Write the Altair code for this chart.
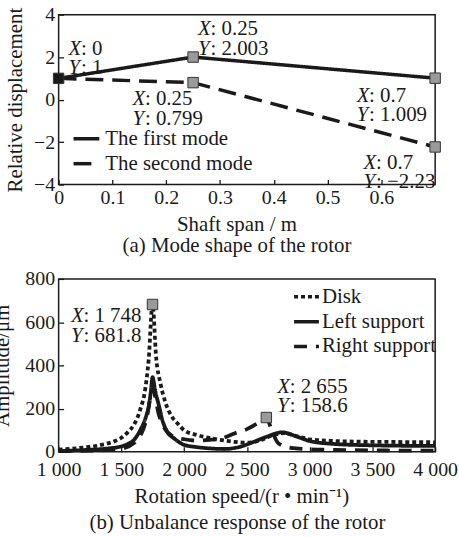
import altair as alt
import pandas as pd

FONT = "Liberation Serif"
INK = "#1a1a1a"
GRAY = "#9a9a9a"

# ---------------- (a) Mode shape of the rotor ----------------
span_m = [0.0, 0.25, 0.7]
first_mode = [1.0, 2.003, 1.009]
second_mode = [1.0, 0.799, -2.23]
mode_names = ["The first mode", "The second mode"]
span_ticks = [0, 0.1, 0.2, 0.3, 0.4, 0.5, 0.6]
disp_ticks = [-4, -2, 0, 2, 4]

tip_a_x = [0.0, 0.25, 0.25, 0.7, 0.7]
tip_a_y = [1.0, 2.003, 0.799, 1.009, -2.23]
tip_a_xlabel = ["0", "0.25", "0.25", "0.7", "0.7"]
tip_a_ylabel = ["1", "2.003", "0.799", "1.009", "\u22122.23"]
tip_a_fill = [INK, GRAY, GRAY, GRAY, GRAY]
tip_a_offsets = [(10, -24), (5, -22), (-61, 23), (-79, 24), (-72, 22)]

# ---------------- (b) Unbalance response of the rotor ----------------
disk_speed = [1000, 1200, 1350, 1450, 1500, 1550, 1600, 1650, 1690, 1718, 1748, 1778, 1810,
              1850, 1900, 1950, 2000, 2100, 2200, 2300, 2400, 2500, 2600, 2700, 2800, 2900,
              3000, 3200, 3500, 3800, 4000]
disk_amp = [10, 20, 33, 50, 65, 90, 125, 195, 290, 430, 681.8, 430, 320,
            230, 165, 130, 100, 78, 64, 54, 46, 42, 52, 75, 86, 72,
            58, 50, 46, 45, 44]
left_speed = [1000, 1200, 1400, 1500, 1550, 1600, 1650, 1700, 1720, 1735, 1748, 1770, 1800,
              1830, 1863, 1925, 2000, 2100, 2200, 2320, 2450, 2550, 2650, 2780, 2900, 3000,
              3200, 3500, 4000]
left_amp = [4, 8, 16, 25, 36, 55, 100, 170, 215, 280, 345, 280, 212,
            140, 95, 60, 32, 22, 16, 13, 24, 45, 68, 90, 70, 50,
            36, 30, 27]
right_speed = [1000, 1300, 1500, 1600, 1700, 1748, 1800, 1900, 2000, 2100, 2200, 2300, 2400,
               2500, 2580, 2655, 2700, 2750, 2850, 3000, 3300, 3600, 4000]
right_amp = [3, 6, 15, 40, 150, 290, 170, 75, 58, 52, 55, 62, 85,
             105, 130, 158.6, 95, 40, 18, 12, 8, 6, 5]
curve_names = ["Disk", "Left support", "Right support"]
speed_ticks = [1000, 1500, 2000, 2500, 3000, 3500, 4000]
amp_ticks = [0, 200, 400, 600, 800]

tip_b_x = [1748, 2655]
tip_b_y = [681.8, 158.6]
tip_b_xlabel = ["1 748", "2 655"]
tip_b_ylabel = ["681.8", "158.6"]
tip_b_fill = [GRAY, GRAY]
tip_b_offsets = [(-82, 18), (11, -25)]


def tip_layers(xv, yv, xlab, ylab, dx, dy, xenc, yenc):
    d = pd.DataFrame({"x": [xv], "y": [yv]})
    common = dict(align="left", baseline="alphabetic", font=FONT, fontSize=21,
                  lineHeight=19.5, lineBreak="\n", color=INK, dy=dy)
    letters = alt.Chart(d).mark_text(text="X\nY", fontStyle="italic", dx=dx, **common).encode(x=xenc, y=yenc)
    values = alt.Chart(d).mark_text(text=f": {xlab}\n: {ylab}", dx=dx + 12.5, **common).encode(x=xenc, y=yenc)
    return [letters, values]


axis_common = dict(grid=False, domain=False, offset=-5, tickSize=5, tickWidth=1.3, tickColor=INK,
                   labelFont=FONT, labelFontSize=20, labelColor=INK, titleFont=FONT,
                   titleFontSize=21, titleFontWeight="normal", titleColor=INK, labelFlush=False)

# ----- chart (a)
xa = alt.X("x:Q", scale=alt.Scale(domain=[0, 0.7], nice=False, zero=False),
           axis=alt.Axis(values=span_ticks, format="~g", title="Shaft span / m", labelPadding=3,
                         titlePadding=6.5, titleX=179, **axis_common))
ya = alt.Y("y:Q", scale=alt.Scale(domain=[-4, 4], nice=False),
           axis=alt.Axis(values=disp_ticks, format="d", title="Relative displacement", labelPadding=4,
                         titleX=-38, **axis_common))

modes_df = pd.DataFrame({
    "x": span_m + span_m,
    "y": first_mode + second_mode,
    "mode": [mode_names[0]] * len(span_m) + [mode_names[1]] * len(span_m),
})
leg_a = alt.Legend(orient="none", legendX=13, legendY=110, title=None, symbolType="stroke",
                   symbolSize=676, symbolStrokeWidth=3.5, labelFont=FONT, labelFontSize=21,
                   labelColor=INK, labelOffset=4, rowPadding=0, padding=0)
lines_a = alt.Chart(modes_df).mark_line(strokeWidth=3.5).encode(
    x=xa, y=ya,
    color=alt.Color("mode:N", scale=alt.Scale(domain=mode_names, range=[INK, INK]), legend=leg_a),
    strokeDash=alt.StrokeDash("mode:N", scale=alt.Scale(domain=mode_names, range=[[1, 0], [18, 9]]),
                              legend=leg_a),
    detail="mode:N",
)
marks_a_df = pd.DataFrame({"x": tip_a_x, "y": tip_a_y, "fill": tip_a_fill})
marks_a = alt.Chart(marks_a_df).mark_square(size=110, stroke="#333333", strokeWidth=1, opacity=1).encode(
    x=xa, y=ya, fill=alt.Fill("fill:N", scale=None))

layers_a = [lines_a, marks_a]
for i in range(len(tip_a_x)):
    layers_a += tip_layers(tip_a_x[i], tip_a_y[i], tip_a_xlabel[i], tip_a_ylabel[i],
                           tip_a_offsets[i][0], tip_a_offsets[i][1], xa, ya)

chart_a = alt.layer(*layers_a).properties(
    width=379, height=171,
    title=alt.TitleParams("(a) Mode shape of the rotor", orient="bottom", anchor="middle", font=FONT,
                          fontSize=21, fontWeight="normal", color=INK, offset=0, dx=-10),
)

# ----- chart (b)
xb = alt.X("x:Q", scale=alt.Scale(domain=[1000, 4000], nice=False, zero=False),
           axis=alt.Axis(values=speed_ticks, labelExpr="replace(format(datum.value, ','), ',', ' ')",
                         title="Rotation speed/(r \u2022 min\u207b\u00b9)", labelPadding=8,
                         titlePadding=6.5, titleX=184, **axis_common))
yb = alt.Y("y:Q", scale=alt.Scale(domain=[0, 800], nice=False),
           axis=alt.Axis(values=amp_ticks, format="d", title="Amplitude/\u03bcm", labelPadding=4,
                         titleX=-51, **axis_common))

resp_df = pd.DataFrame({
    "x": right_speed + left_speed + disk_speed,
    "y": right_amp + left_amp + disk_amp,
    "curve": [curve_names[2]] * len(right_speed) + [curve_names[1]] * len(left_speed)
             + [curve_names[0]] * len(disk_speed),
})
leg_b = alt.Legend(orient="none", legendX=235, legendY=3.5, title=None, symbolType="stroke",
                   symbolSize=625, symbolStrokeWidth=3.5, labelFont=FONT, labelFontSize=21,
                   labelColor=INK, labelOffset=1, rowPadding=0, padding=0)
lines_b = alt.Chart(resp_df).mark_line(strokeWidth=3.8, interpolate="monotone").encode(
    x=xb, y=yb,
    color=alt.Color("curve:N", scale=alt.Scale(domain=curve_names, range=[INK, INK, INK]), legend=leg_b),
    strokeDash=alt.StrokeDash("curve:N", scale=alt.Scale(domain=curve_names,
                                                         range=[[4, 3], [1, 0], [13, 9]]), legend=leg_b),
    detail="curve:N",
)
marks_b_df = pd.DataFrame({"x": tip_b_x, "y": tip_b_y, "fill": tip_b_fill})
marks_b = alt.Chart(marks_b_df).mark_square(size=110, stroke="#333333", strokeWidth=1, opacity=1).encode(
    x=xb, y=yb, fill=alt.Fill("fill:N", scale=None))

layers_b = [lines_b, marks_b]
for i in range(len(tip_b_x)):
    layers_b += tip_layers(tip_b_x[i], tip_b_y[i], tip_b_xlabel[i], tip_b_ylabel[i],
                           tip_b_offsets[i][0], tip_b_offsets[i][1], xb, yb)

chart_b = alt.layer(*layers_b).properties(
    width=379, height=174,
    title=alt.TitleParams("(b) Unbalance response of the rotor", orient="bottom", anchor="middle",
                          font=FONT, fontSize=21, fontWeight="normal", color=INK, offset=5, dx=-9.5),
)

chart = alt.vconcat(chart_a, chart_b, spacing=11).resolve_scale(
    x="independent", y="independent", color="independent", strokeDash="independent"
).properties(
    padding={"left": -9, "top": 2, "right": 0, "bottom": 0}
).configure_view(stroke=INK, strokeWidth=1.5)

chart.save("out.html", embed_options={"renderer": "svg", "actions": False})
